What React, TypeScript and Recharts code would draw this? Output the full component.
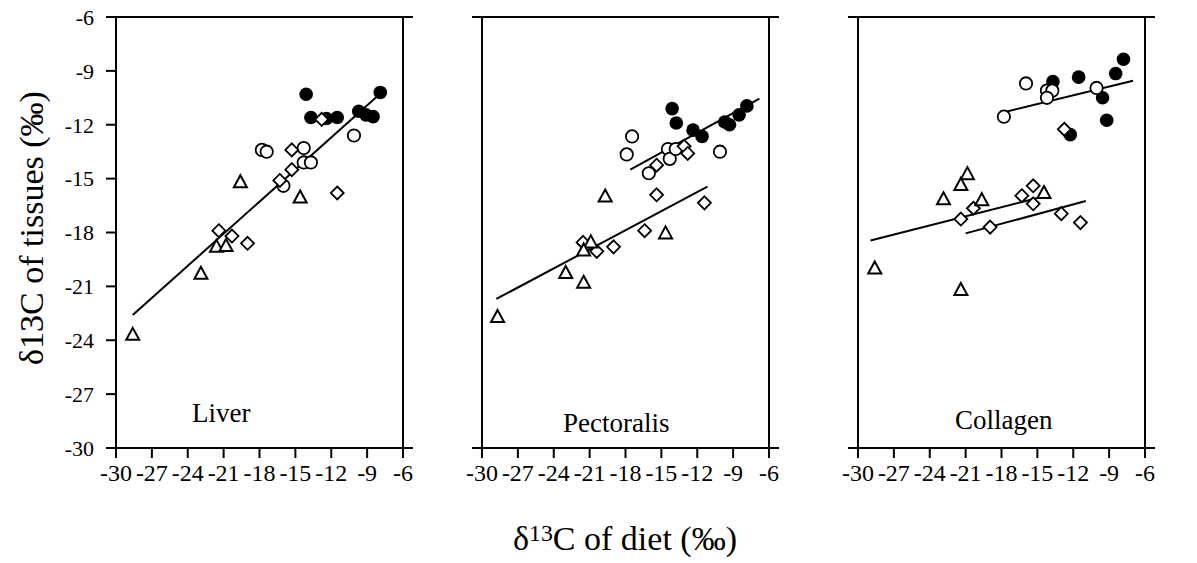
import React from 'react'
import { ReferenceLine, Scatter, ScatterChart, XAxis, YAxis } from 'recharts'

type Pt = { x: number; y: number }

const xTicks = [-30, -27, -24, -21, -18, -15, -12, -9, -6]
const yTicks = [-30, -27, -24, -21, -18, -15, -12, -9, -6]

// Liver
const liverFilled: Pt[] = [
    { x: -14.1, y: -10.3 }, { x: -13.7, y: -11.6 }, { x: -12.4, y: -11.65 }, { x: -11.5, y: -11.6 },
    { x: -9.7, y: -11.25 }, { x: -9.1, y: -11.45 }, { x: -8.5, y: -11.55 }, { x: -7.9, y: -10.2 },
]
const liverOpen: Pt[] = [
    { x: -17.8, y: -13.4 }, { x: -17.4, y: -13.5 }, { x: -14.3, y: -13.3 }, { x: -14.3, y: -14.1 },
    { x: -13.7, y: -14.1 }, { x: -16.0, y: -15.4 }, { x: -10.1, y: -12.6 },
]
const liverDiamond: Pt[] = [
    { x: -12.8, y: -11.7 }, { x: -15.3, y: -13.4 }, { x: -15.3, y: -14.5 }, { x: -16.3, y: -15.1 },
    { x: -11.5, y: -15.8 }, { x: -21.4, y: -17.9 }, { x: -20.3, y: -18.2 }, { x: -19.0, y: -18.6 },
]
const liverTriangle: Pt[] = [
    { x: -19.6, y: -15.2 }, { x: -14.6, y: -16.05 }, { x: -21.6, y: -18.8 }, { x: -20.8, y: -18.75 },
    { x: -22.9, y: -20.3 }, { x: -28.6, y: -23.7 },
]
const liverFit: Pt[] = [{ x: -28.6, y: -22.6 }, { x: -7.8, y: -10.2 }]

// Pectoralis
const pectFilled: Pt[] = [
    { x: -14.1, y: -11.1 }, { x: -13.75, y: -11.9 }, { x: -12.35, y: -12.3 }, { x: -11.6, y: -12.65 },
    { x: -9.7, y: -11.85 }, { x: -9.3, y: -12.0 }, { x: -8.5, y: -11.45 }, { x: -7.85, y: -10.95 },
]
const pectOpen: Pt[] = [
    { x: -17.45, y: -12.65 }, { x: -17.9, y: -13.65 }, { x: -16.05, y: -14.7 }, { x: -14.45, y: -13.35 },
    { x: -14.3, y: -13.9 }, { x: -13.8, y: -13.35 }, { x: -10.1, y: -13.5 },
]
const pectDiamond: Pt[] = [
    { x: -15.4, y: -14.25 }, { x: -13.1, y: -13.2 }, { x: -12.8, y: -13.6 }, { x: -15.4, y: -15.9 },
    { x: -11.4, y: -16.35 }, { x: -16.4, y: -17.9 }, { x: -21.55, y: -18.55 }, { x: -20.4, y: -19.05 },
    { x: -19.0, y: -18.8 },
]
const pectTriangle: Pt[] = [
    { x: -19.7, y: -16.0 }, { x: -14.65, y: -18.05 }, { x: -20.9, y: -18.55 }, { x: -21.5, y: -19.0 },
    { x: -23.0, y: -20.25 }, { x: -21.5, y: -20.8 }, { x: -28.7, y: -22.7 },
]
const pectFitUpper: Pt[] = [{ x: -17.6, y: -14.5 }, { x: -6.8, y: -10.55 }]
const pectFitLower: Pt[] = [{ x: -28.8, y: -21.7 }, { x: -11.15, y: -15.45 }]

// Collagen
const collFilled: Pt[] = [
    { x: -13.7, y: -9.6 }, { x: -11.55, y: -9.35 }, { x: -8.45, y: -9.15 }, { x: -7.8, y: -8.35 },
    { x: -9.55, y: -10.5 }, { x: -9.2, y: -11.75 }, { x: -12.25, y: -12.55 },
]
const collOpen: Pt[] = [
    { x: -15.95, y: -9.7 }, { x: -14.2, y: -10.1 }, { x: -13.75, y: -10.1 }, { x: -14.2, y: -10.5 },
    { x: -10.05, y: -9.95 }, { x: -17.8, y: -11.55 },
]
const collDiamond: Pt[] = [
    { x: -12.75, y: -12.25 }, { x: -15.35, y: -15.4 }, { x: -16.3, y: -15.95 }, { x: -15.35, y: -16.4 },
    { x: -20.35, y: -16.65 }, { x: -21.4, y: -17.25 }, { x: -18.95, y: -17.7 }, { x: -13.0, y: -16.95 },
    { x: -11.4, y: -17.45 },
]
const collTriangle: Pt[] = [
    { x: -20.85, y: -14.75 }, { x: -21.4, y: -15.35 }, { x: -22.85, y: -16.15 }, { x: -19.65, y: -16.2 },
    { x: -14.45, y: -15.8 }, { x: -28.6, y: -20.0 }, { x: -21.4, y: -21.2 },
]
const collFitUpper: Pt[] = [{ x: -17.8, y: -11.3 }, { x: -7.0, y: -9.55 }]
const collFitLong: Pt[] = [{ x: -28.95, y: -18.45 }, { x: -14.5, y: -16.0 }]
const collFitShort: Pt[] = [{ x: -21.0, y: -18.05 }, { x: -10.95, y: -16.25 }]

const serif = '"Liberation Serif", "Times New Roman", serif'
const PLOT_W = 287
const PLOT_H = 431
const PLOT_TOP = 17
const TOP_PAD = 20

const FilledDot = (p: any) => <circle cx={p.cx} cy={p.cy} r={6.8} fill="#000" />
const OpenDot = (p: any) => <circle cx={p.cx} cy={p.cy} r={6.2} fill="#fff" stroke="#000" strokeWidth={1.8} />
const DiamondDot = (p: any) => (
    <path d={`M${p.cx},${p.cy - 6.5}L${p.cx + 6.5},${p.cy}L${p.cx},${p.cy + 6.5}L${p.cx - 6.5},${p.cy}Z`}
        fill="#fff" stroke="#000" strokeWidth={1.8} />
)
const TriangleDot = (p: any) => (
    <path d={`M${p.cx},${p.cy - 7}L${p.cx + 6.5},${p.cy + 5}L${p.cx - 6.5},${p.cy + 5}Z`}
        fill="#fff" stroke="#000" strokeWidth={2} />
)
const NoDot = () => <g />

type PanelProps = {
    plotLeft: number
    leftW: number
    rightW: number
    showLeft: boolean
    showRight: boolean
    fits: Pt[][]
    filled: Pt[]
    open: Pt[]
    diamond: Pt[]
    triangle: Pt[]
}

const Panel = ({ plotLeft, leftW, rightW, showLeft, showRight, fits, filled, open, diamond, triangle }: PanelProps) => {
    const ext = 10 / (PLOT_W / 24)
    const axisStroke = { stroke: '#000', strokeWidth: 2 }
    return (
        <div style={{ position: 'absolute', left: plotLeft - leftW, top: PLOT_TOP - TOP_PAD }}>
            <ScatterChart width={leftW + PLOT_W + rightW} height={TOP_PAD + PLOT_H + 60}
                margin={{ top: TOP_PAD, right: 0, bottom: 0, left: 0 }}>
                <XAxis type="number" dataKey="x" domain={[-30, -6]} ticks={xTicks} interval={0}
                    height={60} tickSize={10} tickMargin={6} axisLine={false} tickLine={axisStroke}
                    tick={{ fontSize: 24, fill: '#000', fontFamily: serif }} />
                <YAxis type="number" dataKey="y" domain={[-30, -6]} ticks={yTicks} interval={0}
                    width={leftW} tickSize={10} tickMargin={12} axisLine={axisStroke} tickLine={axisStroke}
                    tick={showLeft ? { fontSize: 22, fill: '#000', fontFamily: serif } : false} />
                <YAxis yAxisId="r" orientation="right" type="number" domain={[-30, -6]} ticks={yTicks} interval={0}
                    width={rightW} tickSize={10} tickMargin={5} axisLine={axisStroke} tickLine={axisStroke}
                    tick={showRight ? { fontSize: 22, fill: '#000', fontFamily: serif, textAnchor: 'start' } : false} />
                <ReferenceLine segment={[{ x: -30 - ext, y: -6 }, { x: -6 + ext, y: -6 }]} stroke="#000" strokeWidth={2} ifOverflow="visible" />
                <ReferenceLine segment={[{ x: -30 - ext, y: -30 }, { x: -6 + ext, y: -30 }]} stroke="#000" strokeWidth={2} ifOverflow="visible" />
                {fits.map((f, i) => (
                    <Scatter key={'fit' + i} data={f} line={{ stroke: '#000', strokeWidth: 2 }} shape={NoDot} isAnimationActive={false} />
                ))}
                <Scatter data={filled} shape={FilledDot} isAnimationActive={false} />
                <Scatter data={open} shape={OpenDot} isAnimationActive={false} />
                <Scatter data={diamond} shape={DiamondDot} isAnimationActive={false} />
                <Scatter data={triangle} shape={TriangleDot} isAnimationActive={false} />
            </ScatterChart>
        </div>
    )
}

const panelLabel = (text: string, left: number, top: number) => (
    <div style={{ position: 'absolute', left, top, fontFamily: serif, fontSize: 27, lineHeight: 1, whiteSpace: 'nowrap' }}>
        {text}
    </div>
)

const App = () => {
    return (
        <div style={{ position: 'absolute', left: 0, top: 0, width: 1197, height: 563, overflow: 'hidden', background: '#fff' }}>
            <Panel plotLeft={116} leftW={80} rightW={40} showLeft showRight={false}
                fits={[liverFit]} filled={liverFilled} open={liverOpen} diamond={liverDiamond} triangle={liverTriangle} />
            <Panel plotLeft={482} leftW={40} rightW={40} showLeft={false} showRight={false}
                fits={[pectFitUpper, pectFitLower]} filled={pectFilled} open={pectOpen} diamond={pectDiamond} triangle={pectTriangle} />
            <Panel plotLeft={858} leftW={40} rightW={50} showLeft={false} showRight
                fits={[collFitUpper, collFitLong, collFitShort]} filled={collFilled} open={collOpen} diamond={collDiamond} triangle={collTriangle} />

            {panelLabel('Liver', 192, 400)}
            {panelLabel('Pectoralis', 563, 410)}
            {panelLabel('Collagen', 955, 407)}

            <div style={{
                position: 'absolute', left: 32, top: 228, transform: 'translate(-50%, -50%) rotate(-90deg)',
                fontFamily: serif, fontSize: 34, lineHeight: 1, whiteSpace: 'nowrap',
            }}>
                δ13C of tissues (‰)
            </div>
            <div style={{
                position: 'absolute', left: 625, top: 522, transform: 'translateX(-50%)',
                fontFamily: serif, fontSize: 34, lineHeight: 1, whiteSpace: 'nowrap',
            }}>
                δ<span style={{ fontSize: '0.7em', position: 'relative', top: '-0.38em' }}>13</span>C of diet (‰)
            </div>
        </div>
    )
}

export default App
